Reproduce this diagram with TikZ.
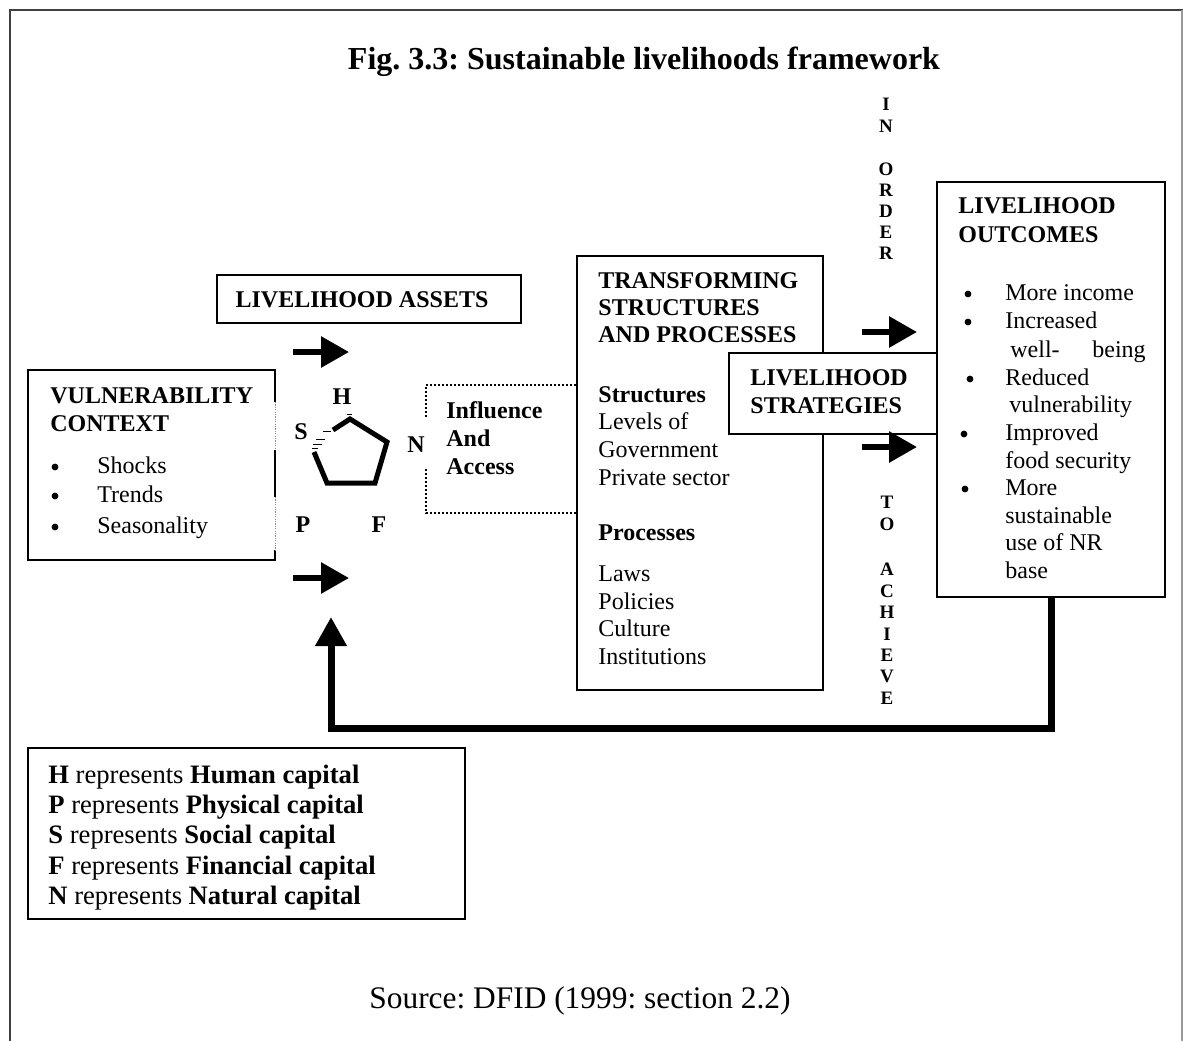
\documentclass[tikz,border=0pt]{standalone}
\usepackage{fontspec}
\setmainfont{Liberation Serif}
\usetikzlibrary{arrows.meta,fit}
\frenchspacing
\begin{document}
\begin{tikzpicture}[x=0.5pt,y=-0.5pt,
  box/.style={draw, line width=0.8pt, inner sep=0pt, fill=white},
  tx/.style={anchor=base west, inner sep=0pt, font=\fontsize{12}{14}\selectfont},
  tb/.style={anchor=base west, inner sep=0pt, font=\fontsize{12}{14}\selectfont\bfseries},
  bul/.style={circle, fill=black, inner sep=0pt, minimum size=3.4pt},
  lg/.style={anchor=base west, inner sep=0pt, font=\fontsize{13.3}{15}\selectfont},
  vlet/.style={anchor=center, inner sep=0pt, font=\fontsize{9.5}{10.5}\selectfont\bfseries},
  pentlabel/.style={anchor=center, inner sep=0pt, font=\fontsize{12}{14}\selectfont\bfseries},
  fat/.style={line width=3pt, -{Triangle[length=14pt,width=15pt]}},
  thinline/.style={line width=0.8pt}
]
\useasboundingbox (0,0) rectangle (1183,1041);
% frame
\draw[line width=1.2pt, black!75] (10,1041) -- (10,10) -- (1183,10);
\draw[line width=0.6pt, black!40] (1182,10) -- (1182,1041);

% title
\node[anchor=base, inner sep=0pt, font=\fontsize{16}{19}\selectfont\bfseries] (title) at (644,69) {Fig. 3.3: Sustainable livelihoods framework};

% vulnerability context box (custom right edge)
\node[inner sep=0pt, fit={(28,370) (275,560)}] (vc) {};
\draw[thinline] (275,402) -- (275,370) -- (28,370) -- (28,560) -- (275,560) -- (275,550);
\draw[thinline] (275,450) -- (275,497);
\draw[line width=0.4pt, black!45, dash pattern=on 0.6pt off 0.6pt] (275,402) -- (275,450) (275,497) -- (275,550);
\node[tb] (vc1) at (50,403) {VULNERABILITY};
\node[tb] (vc2) at (50,431) {CONTEXT};
\node[bul] (vcb1) at (55,467) {};
\node[bul] (vcb2) at (55,496) {};
\node[bul] (vcb3) at (55,527) {};
\node[tx] (vc3) at (97,473) {Shocks};
\node[tx] (vc4) at (97,502) {Trends};
\node[tx] (vc5) at (97,533) {Seasonality};

% livelihood assets
\node[box, fit={(217,275) (521,323)}] (la) {};
\node[anchor=base, inner sep=0pt, font=\fontsize{12}{14}\selectfont\bfseries] (latext) at (362,307) {LIVELIHOOD ASSETS};

% left arrows
\coordinate (a1s) at (293,352); \coordinate (a1e) at (349,352);
\coordinate (a2s) at (293,578); \coordinate (a2e) at (349,578);
\draw[fat] (a1s) -- (a1e);
\draw[fat] (a2s) -- (a2e);

% pentagon
\draw[line width=2.5pt, line join=miter] (333,430) -- (350,419) -- (387,442) -- (375,483) -- (327,483) -- (314,452);
\draw[line width=0.5pt] (312,448)--(318,448) (313,444)--(322,444) (316,439)--(325,439) (323,431)--(331,431) (347,414)--(352,414);
\node[pentlabel] (H) at (342,397) {H};
\node[pentlabel] (S) at (301,432) {S};
\node[pentlabel] (N) at (416,445) {N};
\node[pentlabel] (P) at (303,525) {P};
\node[pentlabel] (F) at (379,525) {F};

% transforming structures box
\node[box, fit={(577,256) (823,690)}] (ts) {};
\node[tb] (ts1) at (598,288) {TRANSFORMING};
\node[tb] (ts2) at (598,315) {STRUCTURES};
\node[tb] (ts3) at (598,342) {AND PROCESSES};
\node[tb] (ts4) at (598,402) {Structures};
\node[tx] (ts5) at (598,429) {Levels of};
\node[tx] (ts6) at (598,457) {Government};
\node[tx] (ts7) at (598,485) {Private sector};
\node[tb] (ts8) at (598,540) {Processes};
\node[tx] (ts9) at (598,581) {Laws};
\node[tx] (ts10) at (598,609) {Policies};
\node[tx] (ts11) at (598,636) {Culture};
\node[tx] (ts12) at (598,664) {Institutions};

% influence and access (dotted)
\node[inner sep=0pt, fit={(426,385) (577,513)}] (ia) {};
\draw[line width=0.8pt, dash pattern=on 1pt off 1pt] (426,417) -- (426,385) -- (577,385) -- (577,513) -- (426,513) -- (426,467);
\node[tb] (ia1) at (446,418) {Influence};
\node[tb] (ia2) at (446,446) {And};
\node[tb] (ia3) at (446,474) {Access};

% livelihood outcomes
\node[box, fit={(937,182) (1165,597)}] (lo) {};
\node[tb] (lo1) at (958,213) {LIVELIHOOD};
\node[tb] (lo2) at (958,242) {OUTCOMES};
\node[bul] (lob1) at (968,294) {};
\node[bul] (lob2) at (968,322) {};
\node[bul] (lob3) at (970,379) {};
\node[bul] (lob4) at (964,434) {};
\node[bul] (lob5) at (965,489) {};
\node[tx] (lo3) at (1005,300) {More income};
\node[tx] (lo4) at (1005,328) {Increased};
\node[tx] (lo5) at (1010,357) {well-};
\node[tx] (lo5b) at (1092,357) {being};
\node[tx] (lo6) at (1005,385) {Reduced};
\node[tx] (lo7) at (1009,412) {vulnerability};
\node[tx] (lo8) at (1005,440) {Improved};
\node[tx] (lo9) at (1005,468) {food security};
\node[tx] (lo10) at (1005,495) {More};
\node[tx] (lo11) at (1005,523) {sustainable};
\node[tx] (lo12) at (1005,550) {use of NR};
\node[tx] (lo13) at (1005,578) {base};

% livelihood strategies (overlaps)
\node[box, fit={(729,353) (937,434)}] (ls) {};
\node[tb] (ls1) at (750,385) {LIVELIHOOD};
\node[tb] (ls2) at (750,413) {STRATEGIES};

% right arrows
\coordinate (a3s) at (862,332); \coordinate (a3e) at (917,332);
\coordinate (a4s) at (862,447); \coordinate (a4e) at (917,447);
\draw[fat] (a3s) -- (a3e);
\draw[fat] (a4s) -- (a4e);

% vertical words
\foreach \l/\y [count=\i] in {I/104,N/126,O/169,R/190,D/211,E/232,R/253}
  \node[vlet] (io\i) at (886,\y) {\l};
\foreach \l/\y [count=\i] in {T/502,O/524,A/569,C/591,H/612,I/634,E/655,V/676,E/698}
  \node[vlet] (ta\i) at (887,\y) {\l};

% feedback arrow
\coordinate (fbR) at (1051,728);
\coordinate (fbL) at (331,728);
\coordinate (fbT) at (331,617);
\draw[line width=3.5pt, line join=miter, -{Triangle[length=14.5pt,width=15pt]}] (lo.south -| fbR) -- (fbR) -- (fbL) -- (fbT);

% legend
\node[box, fit={(28,748) (465,919)}] (leg) {};
\node[lg] (lg1) at (48,783) {\textbf{H} represents \textbf{Human capital}};
\node[lg] (lg2) at (48,813) {\textbf{P} represents \textbf{Physical capital}};
\node[lg] (lg3) at (48,843) {\textbf{S} represents \textbf{Social capital}};
\node[lg] (lg4) at (48,874) {\textbf{F} represents \textbf{Financial capital}};
\node[lg] (lg5) at (48,904) {\textbf{N} represents \textbf{Natural capital}};

% source
\node[anchor=base, inner sep=0pt, font=\fontsize{15.7}{18}\selectfont] (src) at (580,1008) {Source: DFID (1999: section 2.2)};
\end{tikzpicture}
\end{document}
